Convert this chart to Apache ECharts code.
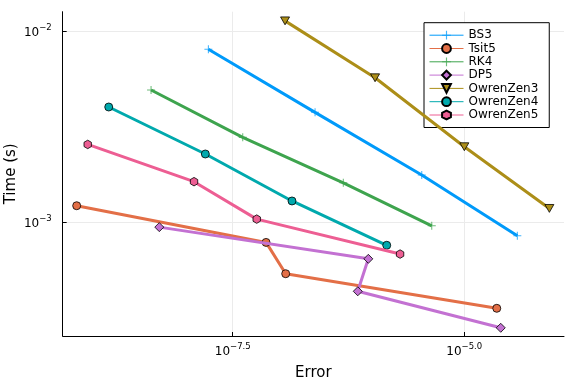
<!DOCTYPE html>
<html><head><meta charset="utf-8">
<script src="https://cdn.jsdelivr.net/npm/echarts@6/dist/echarts.min.js"></script>
<style>html,body{margin:0;padding:0;background:#fff}#c{width:576px;height:384px}</style>
</head><body><div id="c"></div>
<script>
// Error values (x) and Time in seconds (y), per solver
const seriesNames = ['BS3','Tsit5','RK4','DP5','OwrenZen3','OwrenZen4','OwrenZen5'];
const bs3Err  = [1.726e-8, 2.449e-7, 3.475e-6, 3.741e-5];
const bs3Time = [8.054e-3, 3.767e-3, 1.770e-3, 8.511e-4];
const tsit5Err  = [6.531e-10, 7.244e-8, 1.180e-7, 2.244e-5];
const tsit5Time = [1.222e-3, 7.852e-4, 5.383e-4, 3.548e-4];
const rk4Err  = [4.150e-9, 4.055e-8, 4.943e-7, 4.457e-6];
const rk4Time = [4.932e-3, 2.786e-3, 1.611e-3, 9.594e-4];
const dp5Err  = [5.093e-9, 9.204e-7, 7.079e-7, 2.477e-5];
const dp5Time = [9.441e-4, 6.442e-4, 4.355e-4, 2.805e-4];
const oz3Err  = [1.161e-7, 1.089e-6, 1.002e-5, 8.299e-5];
const oz3Time = [1.135e-2, 5.715e-3, 2.489e-3, 1.183e-3];
const oz4Err  = [1.449e-9, 1.600e-8, 1.380e-7, 1.455e-6];
const oz4Time = [4.018e-3, 2.280e-3, 1.294e-3, 7.586e-4];
const oz5Err  = [8.590e-10, 1.208e-8, 5.741e-8, 2.028e-6];
const oz5Time = [2.559e-3, 1.633e-3, 1.040e-3, 6.823e-4];
// tick positions (log10 exponents)
const xTickExp = [-7.5, -5.0];
const yTickExp = [-3, -2];

const colors = ['#009AFA','#E36F47','#3EA44E','#C371D2','#AC8E18','#00A9AD','#ED5E93'];
const errs = [bs3Err, tsit5Err, rk4Err, dp5Err, oz3Err, oz4Err, oz5Err];
const times = [bs3Time, tsit5Time, rk4Time, dp5Time, oz3Time, oz4Time, oz5Time];
const PLUS = 'path://M-1,-0.13H1V0.13H-1Z M-0.13,-1H0.13V1H-0.13Z';
const symbols = [PLUS, 'circle', PLUS, 'diamond', 'path://M-1,-0.85L1,-0.85L0,0.9Z', 'circle',
  'path://M0,-1L0.866,-0.5L0.866,0.5L0,1L-0.866,0.5L-0.866,-0.5Z'];
const sizes = [8, 8, 8, 9, 9, 8, 8.5];
const FONT = 'DejaVu Sans';

const series = seriesNames.map((n, i) => {
  const isPlus = symbols[i] === PLUS;
  return {
    name: n, type: 'line',
    data: errs[i].map((e, k) => [Math.log10(e), Math.log10(times[i][k])]),
    symbol: symbols[i], symbolSize: sizes[i], showAllSymbol: true,
    symbolKeepAspect: true,
    lineStyle: { width: 3, color: colors[i] },
    itemStyle: isPlus ? { color: colors[i], opacity: 0.75, borderWidth: 0 }
                      : { color: colors[i], borderColor: '#000', borderWidth: 0.8 },
    emphasis: { disabled: true },
    z: 2 + i
  };
});

function fmt(exp, dec) {
  return '{b|10}{s|\u2212' + Math.abs(exp).toFixed(dec) + '}';
}
const rich = {
  b: { fontSize: 12, fontFamily: FONT, color: '#000', lineHeight: 16, verticalAlign: 'bottom' },
  s: { fontSize: 8.5, fontFamily: FONT, color: '#000', lineHeight: 16, verticalAlign: 'top' }
};

const chart = echarts.init(document.getElementById('c'), null, { renderer: 'canvas' });
chart.setOption({
  animation: false,
  backgroundColor: '#fff',
  grid: { left: 62.7, right: 12, top: 11.7, bottom: 48, containLabel: false, outerBoundsMode: 'none' },
  xAxis: {
    type: 'value', min: -9.336, max: -3.923,
    name: 'Error', nameLocation: 'middle', nameGap: 30, nameMoveOverlap: false,
    nameTextStyle: { fontSize: 15, fontFamily: FONT, color: '#000' },
    axisLine: { show: true, onZero: false, lineStyle: { color: '#000', width: 1 } },
    axisTick: { show: true, inside: true, length: 4, customValues: xTickExp, lineStyle: { color: '#000' } },
    axisLabel: { customValues: xTickExp, margin: 6, formatter: v => fmt(v, 1), rich: rich },
    splitLine: { show: true, lineStyle: { color: '#ebebeb', width: 1 } }
  },
  yAxis: {
    type: 'value', min: -3.595, max: -1.897,
    name: 'Time (s)', nameLocation: 'middle', nameGap: 44, nameRotate: 90, nameMoveOverlap: false,
    nameTextStyle: { fontSize: 15, fontFamily: FONT, color: '#000' },
    axisLine: { show: true, onZero: false, lineStyle: { color: '#000', width: 1 } },
    axisTick: { show: true, inside: true, length: 4, customValues: yTickExp, lineStyle: { color: '#000' } },
    axisLabel: { customValues: yTickExp, margin: 11, formatter: v => fmt(v, 0), rich: rich },
    splitLine: { show: true, lineStyle: { color: '#ebebeb', width: 1 } }
  },
  legend: {
    orient: 'vertical', left: 424, top: 22.7,
    padding: [6, 11, 6, 5], itemGap: 0.3,
    itemWidth: 34, itemHeight: 11,
    backgroundColor: '#fff', borderColor: '#000', borderWidth: 1, borderRadius: 0,
    textStyle: { fontSize: 12, fontFamily: FONT, color: '#000', lineHeight: 13 },
    lineStyle: { width: 1 },
    data: seriesNames
  },
  series: series
});
</script></body></html>
